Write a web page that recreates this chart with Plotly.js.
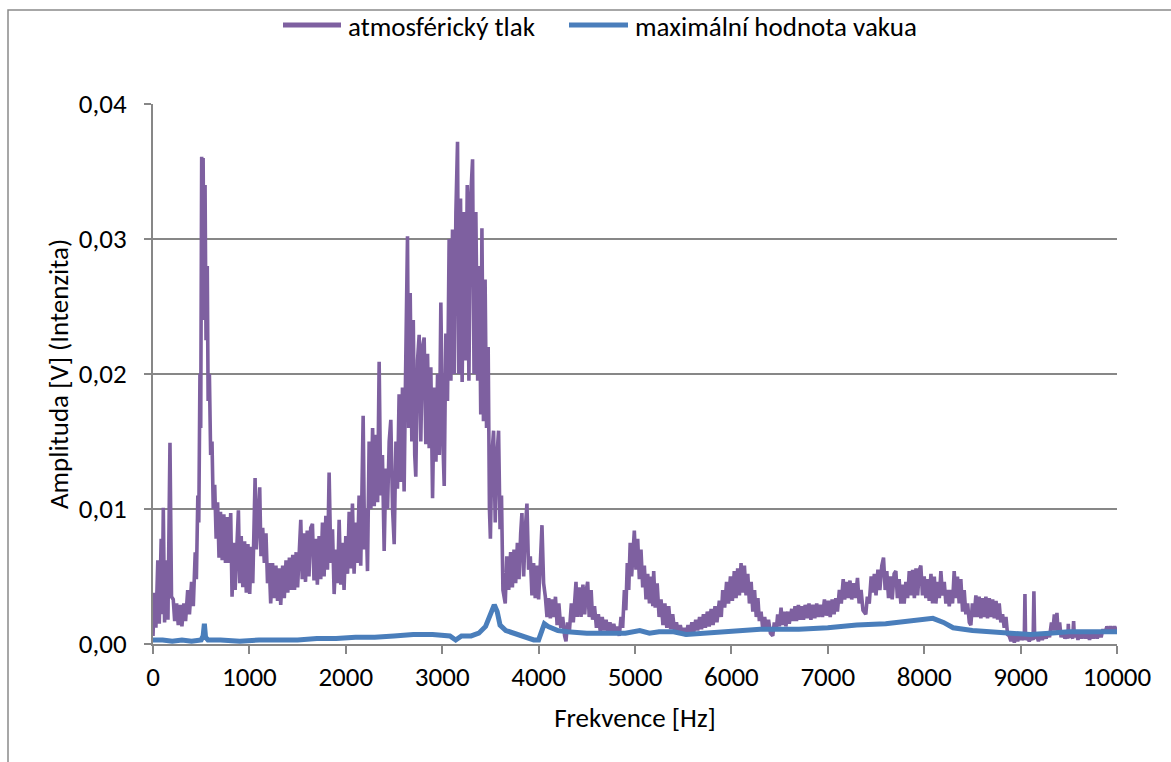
<!DOCTYPE html>
<html>
<head>
<meta charset="utf-8">
<script src="https://cdn.plot.ly/plotly-3.0.1.min.js"></script>
<style>
	html, body { margin: 0; padding: 0; background: #fff; }
	#chart { width: 1171px; height: 762px; }
</style>
</head>
<body>
<div id="chart"></div>
<script>
// atmosférický tlak - frequency [Hz] and amplitude [V]
const atmFreq = [
	0, 15, 30, 50, 65, 85, 95, 107, 120, 140,
	155, 176, 192, 210, 225, 245, 262, 285, 300, 320,
	338, 360, 378, 400, 418, 438, 450, 465, 475, 487,
	495, 505, 512, 520, 530, 540, 550, 563, 572, 585,
	598, 612, 625, 640, 655, 670, 685, 700, 718, 735,
	752, 770, 788, 806, 820, 838, 852, 870, 886, 900,
	915, 932, 950, 968, 985, 1003, 1020, 1035, 1059, 1072,
	1088, 1107, 1120, 1138, 1155, 1172, 1188, 1205, 1221, 1240,
	1258, 1275, 1292, 1310, 1325, 1345, 1362, 1380, 1398, 1415,
	1432, 1450, 1468, 1485, 1500, 1533, 1548, 1565, 1582, 1600,
	1618, 1636, 1654, 1670, 1688, 1705, 1723, 1740, 1758, 1775,
	1793, 1810, 1827, 1845, 1862, 1879, 1900, 1915, 1931, 1948,
	1965, 1982, 2000, 2018, 2035, 2052, 2069, 2086, 2104, 2120,
	2138, 2155, 2180, 2195, 2210, 2225, 2242, 2260, 2278, 2295,
	2312, 2330, 2346, 2362, 2380, 2398, 2415, 2433, 2450, 2467,
	2485, 2502, 2520, 2536, 2553, 2570, 2588, 2605, 2620, 2640,
	2652, 2668, 2685, 2700, 2715, 2726, 2744, 2761, 2778, 2795,
	2813, 2830, 2848, 2865, 2882, 2900, 2918, 2935, 2952, 2970,
	2986, 3003, 3021, 3038, 3055, 3072, 3090, 3107, 3125, 3142,
	3159, 3172, 3190, 3207, 3225, 3242, 3260, 3277, 3295, 3315,
	3330, 3349, 3368, 3385, 3400, 3412, 3428, 3445, 3460, 3477,
	3490, 3500, 3515, 3533, 3550, 3568, 3585, 3600, 3615, 3630,
	3654, 3670, 3690, 3710, 3728, 3745, 3762, 3780, 3797, 3814,
	3827, 3845, 3862, 3879, 3896, 3914, 3931, 3948, 3965, 3983,
	4000, 4018, 4035, 4052, 4070, 4087, 4105, 4122, 4140, 4157,
	4175, 4192, 4210, 4230, 4250, 4270, 4284, 4300, 4320, 4340,
	4360, 4388, 4400, 4420, 4440, 4460, 4478, 4495, 4509, 4525,
	4545, 4560, 4580, 4600, 4620, 4640, 4660, 4680, 4700, 4720,
	4740, 4760, 4780, 4800, 4820, 4837, 4855, 4872, 4890, 4905,
	4920, 4935, 4950, 4965, 4993, 5010, 5028, 5045, 5062, 5080,
	5097, 5114, 5132, 5150, 5168, 5185, 5194, 5210, 5230, 5250,
	5270, 5290, 5310, 5330, 5350, 5370, 5391, 5410, 5430, 5450,
	5470, 5490, 5510, 5530, 5550, 5570, 5590, 5610, 5630, 5650,
	5670, 5690, 5710, 5730, 5750, 5770, 5790, 5810, 5830, 5850,
	5875, 5895, 5910, 5930, 5950, 5970, 5990, 6010, 6030, 6048,
	6065, 6083, 6100, 6118, 6135, 6152, 6170, 6187, 6205, 6222,
	6240, 6258, 6275, 6290, 6308, 6325, 6345, 6365, 6385, 6405,
	6429, 6445, 6465, 6480, 6498, 6515, 6530, 6550, 6565, 6585,
	6600, 6626, 6640, 6660, 6675, 6695, 6710, 6730, 6748, 6765,
	6785, 6805, 6825, 6845, 6865, 6885, 6905, 6925, 6945, 6965,
	6985, 7005, 7025, 7045, 7065, 7083, 7100, 7120, 7140, 7160,
	7175, 7195, 7212, 7230, 7248, 7265, 7285, 7308, 7325, 7345,
	7365, 7394, 7410, 7430, 7450, 7464, 7483, 7500, 7520, 7540,
	7560, 7578, 7595, 7612, 7630, 7650, 7668, 7688, 7706, 7722,
	7740, 7758, 7775, 7792, 7810, 7828, 7845, 7862, 7880, 7898,
	7915, 7932, 7950, 7965, 7982, 8000, 8017, 8035, 8052, 8070,
	8087, 8105, 8121, 8140, 8157, 8173, 8190, 8208, 8225, 8243,
	8260, 8278, 8294, 8311, 8328, 8345, 8363, 8380, 8398, 8415,
	8432, 8450, 8468, 8484, 8500, 8518, 8536, 8553, 8570, 8588,
	8605, 8622, 8640, 8657, 8675, 8692, 8710, 8727, 8745, 8762,
	8778, 8795, 8813, 8830, 8848, 8865, 8882, 8900, 8918, 8935,
	8952, 8970, 8986, 9005, 9020, 9038, 9045, 9052, 9070, 9090,
	9110, 9130, 9138, 9146, 9165, 9185, 9205, 9225, 9245, 9265,
	9285, 9300, 9320, 9335, 9350, 9362, 9377, 9390, 9405, 9420,
	9440, 9460, 9480, 9490, 9495, 9502, 9520, 9540, 9550, 9558,
	9575, 9595, 9615, 9635, 9655, 9675, 9695, 9715, 9735, 9755,
	9775, 9795, 9815, 9835, 9855, 9875, 9895, 9915, 9935, 9955,
	9975, 10000
];
const atmAmp = [
	.0006, .0038, .0012, .0062, .0015, .0078, .0022, .0101, .0016, .0062,
	.0018, .0149, .0035, .0033, .0017, .0030, .0014, .0029, .0013, .0030,
	.0017, .0040, .0022, .0046, .0028, .0068, .0048, .0110, .0090, .0200,
	.0160, .0361, .0300, .0360, .0240, .0340, .0225, .0280, .0180, .0200,
	.0140, .0150, .0100, .0118, .0078, .0105, .0064, .0098, .0062, .0096,
	.0060, .0094, .0060, .0097, .0035, .0075, .0040, .0072, .0099, .0045,
	.0080, .0042, .0076, .0038, .0074, .0037, .0072, .0045, .0123, .0070,
	.0090, .0116, .0065, .0086, .0060, .0082, .0045, .0060, .0030, .0060,
	.0034, .0058, .0032, .0056, .0029, .0058, .0034, .0062, .0038, .0064,
	.0040, .0066, .0040, .0068, .0042, .0092, .0048, .0082, .0046, .0084,
	.0050, .0086, .0089, .0047, .0078, .0044, .0080, .0048, .0090, .0050,
	.0095, .0055, .0127, .0060, .0085, .0037, .0070, .0045, .0092, .0044,
	.0075, .0040, .0080, .0052, .0098, .0056, .0104, .0052, .0090, .0060,
	.0110, .0058, .0169, .0070, .0100, .0054, .0150, .0100, .0160, .0102,
	.0155, .0105, .0209, .0110, .0140, .0069, .0130, .0100, .0150, .0166,
	.0100, .0074, .0150, .0115, .0185, .0120, .0190, .0113, .0200, .0302,
	.0160, .0260, .0150, .0240, .0140, .0124, .0210, .0229, .0150, .0220,
	.0227, .0148, .0215, .0145, .0205, .0108, .0190, .0135, .0200, .0140,
	.0253, .0160, .0117, .0230, .0180, .0300, .0195, .0307, .0200, .0320,
	.0372, .0200, .0330, .0194, .0320, .0210, .0340, .0195, .0330, .0359,
	.0200, .0320, .0195, .0280, .0170, .0308, .0165, .0270, .0160, .0220,
	.0100, .0078, .0140, .0158, .0090, .0140, .0158, .0085, .0110, .0040,
	.0030, .0065, .0040, .0068, .0042, .0070, .0045, .0075, .0048, .0082,
	.0097, .0050, .0085, .0104, .0055, .0065, .0036, .0060, .0034, .0058,
	.0033, .0060, .0088, .0045, .0035, .0020, .0034, .0019, .0033, .0020,
	.0035, .0014, .0030, .0012, .0020, .0006, .0002, .0016, .0010, .0030,
	.0016, .0046, .0020, .0042, .0020, .0044, .0022, .0040, .0046, .0020,
	.0040, .0018, .0028, .0012, .0022, .0009, .0020, .0010, .0018, .0008,
	.0016, .0007, .0015, .0007, .0013, .0006, .0020, .0012, .0040, .0025,
	.0060, .0040, .0075, .0050, .0084, .0055, .0078, .0048, .0070, .0042,
	.0058, .0033, .0052, .0030, .0050, .0028, .0054, .0027, .0045, .0020,
	.0033, .0014, .0030, .0012, .0028, .0011, .0022, .0010, .0016, .0008,
	.0014, .0007, .0012, .0006, .0014, .0008, .0016, .0009, .0018, .0010,
	.0020, .0011, .0022, .0012, .0024, .0013, .0026, .0014, .0028, .0016,
	.0032, .0020, .0040, .0027, .0046, .0030, .0050, .0032, .0054, .0034,
	.0056, .0036, .0060, .0038, .0058, .0036, .0052, .0030, .0046, .0024,
	.0040, .0020, .0034, .0017, .0024, .0011, .0020, .0010, .0018, .0008,
	.0006, .0016, .0010, .0022, .0013, .0027, .0014, .0024, .0013, .0024,
	.0015, .0026, .0017, .0028, .0017, .0029, .0018, .0028, .0018, .0029,
	.0019, .0030, .0018, .0029, .0019, .0030, .0020, .0029, .0020, .0033,
	.0021, .0032, .0020, .0033, .0022, .0034, .0024, .0040, .0030, .0048,
	.0033, .0046, .0034, .0047, .0033, .0045, .0034, .0049, .0030, .0040,
	.0025, .0022, .0035, .0030, .0050, .0038, .0052, .0036, .0055, .0040,
	.0058, .0064, .0040, .0054, .0034, .0050, .0033, .0052, .0054, .0034,
	.0048, .0030, .0044, .0030, .0046, .0034, .0054, .0036, .0055, .0034,
	.0056, .0036, .0055, .0058, .0036, .0050, .0034, .0048, .0032, .0052,
	.0030, .0050, .0030, .0046, .0034, .0054, .0036, .0046, .0030, .0040,
	.0028, .0040, .0030, .0054, .0034, .0050, .0030, .0048, .0024, .0040,
	.0022, .0030, .0016, .0014, .0030, .0020, .0036, .0020, .0035, .0019,
	.0034, .0020, .0035, .0019, .0034, .0020, .0033, .0019, .0032, .0018,
	.0030, .0016, .0022, .0012, .0020, .0007, .0006, .0002, .0007, .0001,
	.0006, .0002, .0007, .0003, .0006, .0003, .0037, .0003, .0006, .0002,
	.0006, .0003, .0039, .0004, .0007, .0002, .0007, .0003, .0008, .0004,
	.0009, .0005, .0016, .0010, .0022, .0010, .0023, .0008, .0016, .0005,
	.0010, .0004, .0008, .0004, .0015, .0005, .0008, .0004, .0017, .0005,
	.0009, .0003, .0009, .0004, .0010, .0004, .0009, .0003, .0009, .0004,
	.0010, .0004, .0009, .0005, .0011, .0008, .0013, .0009, .0013, .0009,
	.0013, .0009
];

// maximální hodnota vakua
const vakFreq = [
	0, 100, 200, 300, 400, 500, 520, 533, 545, 570,
	700, 900, 1100, 1300, 1500, 1700, 1900, 2100, 2300, 2500,
	2700, 2900, 3000, 3080, 3140, 3200, 3300, 3380, 3450, 3500,
	3540, 3570, 3600, 3660, 3750, 3850, 3950, 4000, 4030, 4060,
	4100, 4200, 4300, 4500, 4700, 4900, 5050, 5150, 5250, 5400,
	5530, 5700, 5900, 6100, 6300, 6500, 6700, 7000, 7300, 7600,
	7900, 8090, 8200, 8300, 8500, 8700, 8900, 9100, 9300, 9500,
	9700, 10000
];
const vakAmp = [
	.0003, .0003, .0002, .0003, .0002, .0003, .0006, .0015, .0005, .0003,
	.0003, .0002, .0003, .0003, .0003, .0004, .0004, .0005, .0005, .0006,
	.0007, .0007, .0006, .0006, .0003, .0006, .0006, .0008, .0013, .0022,
	.0029, .0024, .0014, .0010, .0008, .0006, .0003, .0003, .0008, .0015,
	.0013, .0010, .0009, .0008, .0008, .0008, .0010, .0008, .0009, .0009,
	.0007, .0008, .0009, .0010, .0011, .0011, .0011, .0012, .0014, .0015,
	.0017, .0019, .0016, .0012, .0010, .0009, .0008, .0007, .0008, .0009,
	.0009, .0009
];

const seriesNames = ["atmosférický tlak", "maximální hodnota vakua"];
const seriesColors = ["#7E60A0", "#4A7EBB"];
const xTicks = [0, 1000, 2000, 3000, 4000, 5000, 6000, 7000, 8000, 9000, 10000];
const yTicks = [0, 0.01, 0.02, 0.03, 0.04];

const font = "Carlito, Lato, 'Open Sans', sans-serif";
const grey = "#878787";

// plot area in pixels: left 153, right 1117, top 104, bottom 644
const M = { l: 153, r: 54, t: 104, b: 118 };
const PW = 1171 - M.l - M.r;
const PH = 762 - M.t - M.b;
function px(x) { return (x - M.l) / PW; }
function py(y) { return (762 - M.b - y) / PH; }

const data = [
	{
		x: atmFreq,
		y: atmAmp,
		name: seriesNames[0],
		mode: "lines",
		type: "scatter",
		line: { color: seriesColors[0], width: 3.6, simplify: false }
	},
	{
		x: vakFreq,
		y: vakAmp,
		name: seriesNames[1],
		mode: "lines",
		type: "scatter",
		line: { color: seriesColors[1], width: 5 }
	}
];

// legend drawn by hand so the sample lines get Excel's length
const legendLines = [[283, 341], [569, 628]];
const legendText = [346, 633];

const shapes = [
	{
		type: "rect",
		xref: "paper",
		yref: "paper",
		x0: px(8),
		x1: px(1200),
		y0: py(800),
		y1: py(10),
		line: { color: "#8a8a8a", width: 1.5 },
		layer: "below"
	}
];
const annotations = [];
legendLines.forEach((l, i) => {
	shapes.push({
		type: "line",
		xref: "paper",
		yref: "paper",
		x0: px(l[0]),
		x1: px(l[1]),
		y0: py(25),
		y1: py(25),
		line: { color: seriesColors[i], width: 5 }
	});
	annotations.push({
		text: seriesNames[i],
		xref: "paper",
		yref: "paper",
		x: px(legendText[i]),
		y: py(26),
		xanchor: "left",
		yanchor: "middle",
		showarrow: false,
		font: { family: font, size: 27, color: "#000" }
	});
});

const layout = {
	width: 1171,
	height: 762,
	margin: { l: M.l, r: M.r, t: M.t, b: M.b, pad: 0, autoexpand: false },
	paper_bgcolor: "#fff",
	plot_bgcolor: "#fff",
	separators: ",.",
	font: { family: font, size: 27, color: "#000" },
	showlegend: false,
	xaxis: {
		range: [0, 10000],
		tickvals: xTicks,
		tickformat: "d",
		showgrid: false,
		zeroline: false,
		showline: true,
		linecolor: grey,
		linewidth: 2,
		ticks: "outside",
		ticklen: 8,
		tickwidth: 2,
		tickcolor: grey,
		ticklabelstandoff: 0,
		automargin: false,
		title: { text: "Frekvence [Hz]", font: { family: font, size: 27 }, standoff: 16 }
	},
	yaxis: {
		range: [0, 0.04],
		tickvals: yTicks,
		tickformat: ".2f",
		showgrid: true,
		gridcolor: grey,
		gridwidth: 2,
		zeroline: false,
		showline: true,
		linecolor: grey,
		linewidth: 2,
		ticks: "outside",
		ticklen: 7,
		tickwidth: 2,
		tickcolor: grey,
		ticklabelstandoff: 12,
		automargin: false,
		title: { text: "Amplituda [V] (Intenzita)", font: { family: font, size: 27 }, standoff: 2 }
	},
	shapes: shapes,
	annotations: annotations
};

Plotly.newPlot("chart", data, layout, { staticPlot: true, displayModeBar: false });
</script>
</body>
</html>
